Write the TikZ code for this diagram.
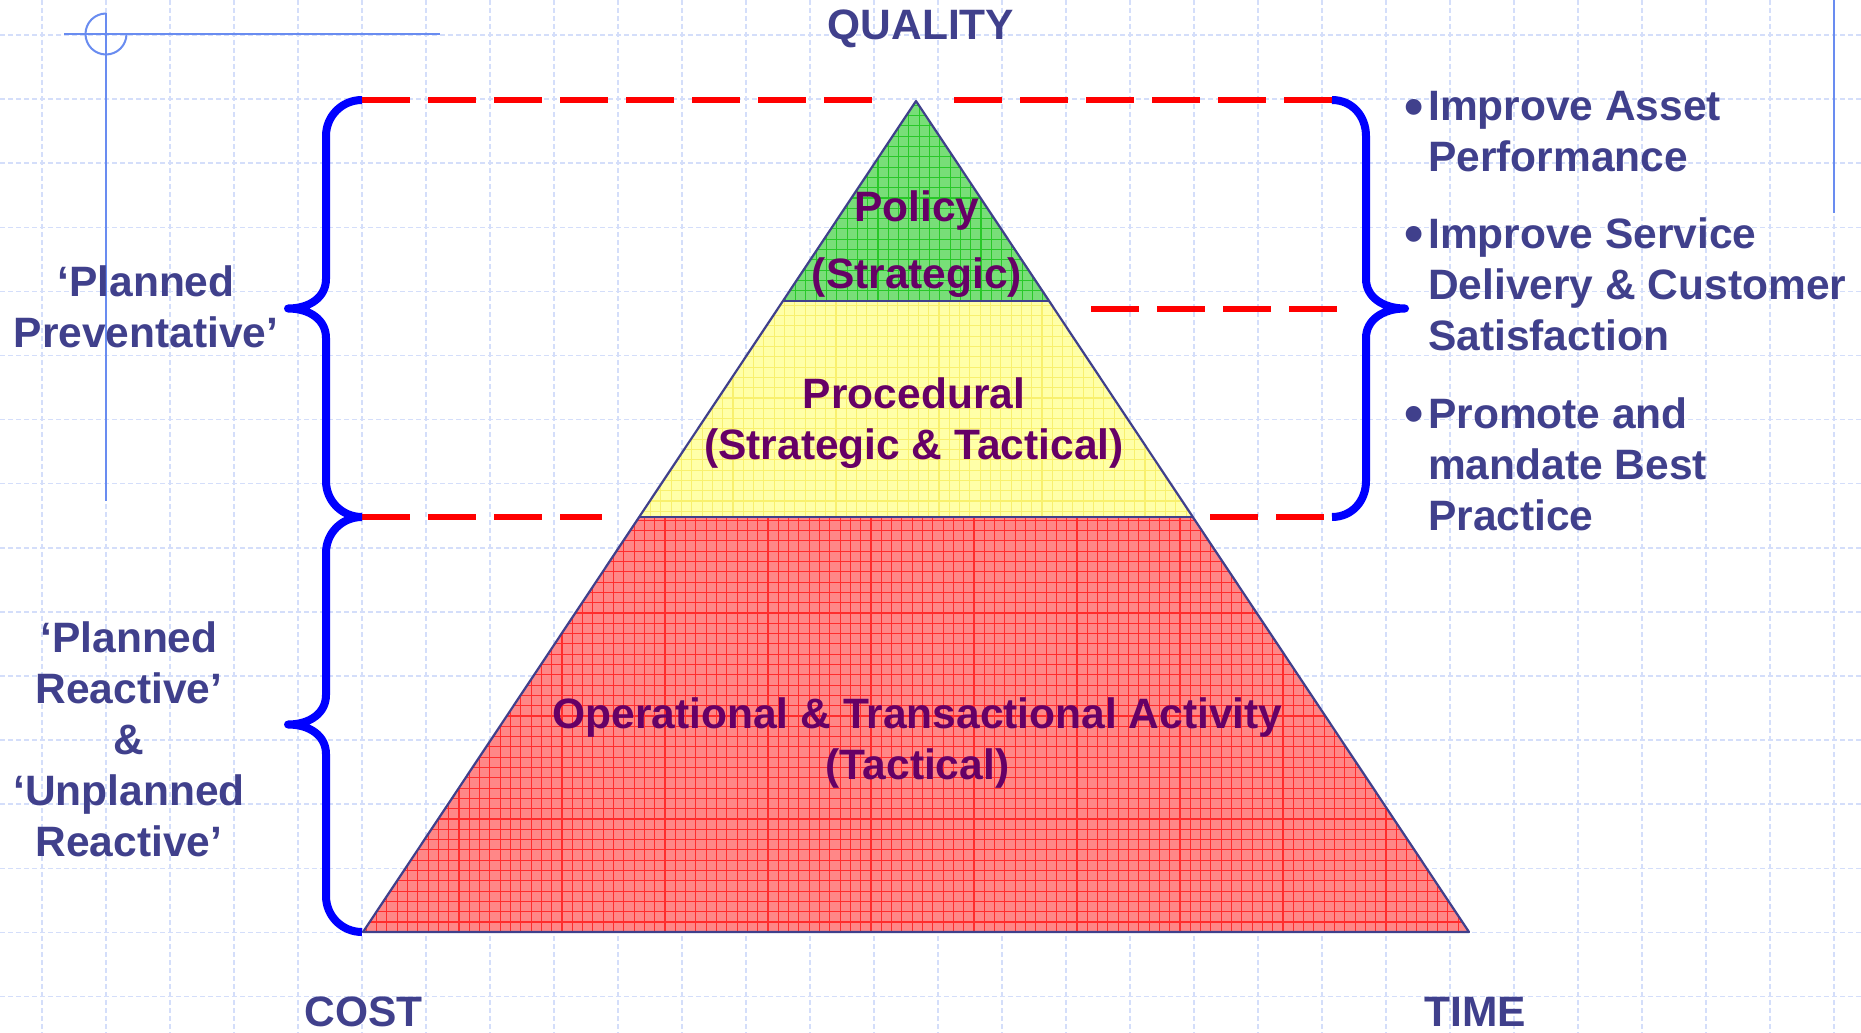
\documentclass[tikz,border=0pt]{standalone}
\usepackage{fontspec}
\setmainfont{Liberation Sans}
\definecolor{txtblue}{RGB}{64,64,140}
\definecolor{pur}{RGB}{102,0,102}
\definecolor{gridc}{RGB}{212,222,250}
\definecolor{deco}{RGB}{105,140,240}
\definecolor{gfill}{RGB}{120,222,120}
\definecolor{gline}{RGB}{40,200,40}
\definecolor{yfill}{RGB}{255,255,168}
\definecolor{yline}{RGB}{248,240,110}
\definecolor{rfill}{RGB}{255,135,135}
\definecolor{rline}{RGB}{255,45,45}
\definecolor{outl}{RGB}{64,64,140}
\begin{document}
\begin{tikzpicture}[x=1pt,y=-1pt,
  gridline/.style={draw=gridc, line width=1.5pt, dash pattern=on 5pt off 3pt},
  decoline/.style={draw=deco, line width=2pt},
  bracestyle/.style={draw=blue, line width=8pt, line join=round},
  reddash/.style={draw=red, line width=6pt, dash pattern=on 48pt off 18pt},
  pyr/.style={draw=outl, line width=2.2pt, line join=round},
  meshline/.style={line width=1.15pt},
  big/.style={font=\fontsize{42.5}{51}\selectfont\bfseries, inner sep=0pt},
  lbl/.style={big, text=txtblue},
  plbl/.style={big, text=pur},
  bulletmark/.style={font=\fontsize{55}{55}\selectfont\bfseries, text=txtblue, inner sep=0pt},
]
\useasboundingbox (0,0) rectangle (1861,1033);
\fill[white] (0,0) rectangle (1861,1033);
% background grid
\foreach \i in {0,...,28} \draw[gridline] ({42+64*\i},0) -- ({42+64*\i},1033);
\foreach \j in {0,...,15} \draw[gridline] (0,{35+64.1*\j}) -- (1861,{35+64.1*\j});
% decoration
\draw[decoline] (64,34) -- (440,34);
\draw[decoline] (106,13) -- (106,501);
\draw[decoline] (126.5,34) arc[start angle=0, end angle=270, radius=20.5];
\draw[decoline] (1834,0) -- (1834,213);
% pyramid coordinates
\coordinate (A) at (916,101);
\coordinate (GL) at (783,301);
\coordinate (GR) at (1049,301);
\coordinate (YL) at (639,517);
\coordinate (YR) at (1193,517);
\coordinate (BL) at (363,932);
\coordinate (BR) at (1469,932);
% green band
\begin{scope}
\clip (A) -- (GR) -- (GL) -- cycle;
\fill[gfill] (A) -- (GR) -- (GL) -- cycle;
\foreach \k in {0,...,28} \draw[meshline, gline] ({775+10.3*\k},95) -- ({775+10.3*\k},305);
\foreach \k in {0,...,20} \draw[meshline, gline] (775,{95+10.3*\k}) -- (1060,{95+10.3*\k});
\end{scope}
% yellow band
\begin{scope}
\clip (GL) -- (GR) -- (YR) -- (YL) -- cycle;
\fill[yfill] (GL) -- (GR) -- (YR) -- (YL) -- cycle;
\foreach \k in {0,...,56} \draw[meshline, yline] ({630+10.3*\k},295) -- ({630+10.3*\k},520);
\foreach \k in {0,...,22} \draw[meshline, yline] (630,{295+10.3*\k}) -- (1200,{295+10.3*\k});
\end{scope}
% red band
\begin{scope}
\clip (YL) -- (YR) -- (BR) -- (BL) -- cycle;
\fill[rfill] (YL) -- (YR) -- (BR) -- (BL) -- cycle;
\foreach \k in {0,...,108} \draw[meshline, rline] ({356+10.3*\k},510) -- ({356+10.3*\k},940);
\foreach \k in {0,...,42} \draw[meshline, rline] (356,{510+10.3*\k}) -- (1475,{510+10.3*\k});
\end{scope}
\draw[pyr] (A) -- (BR) -- (BL) -- cycle;
\draw[pyr] (GL) -- (GR);
\draw[pyr] (YL) -- (YR);
% brace coordinates
\coordinate (L1t) at (362,100);
\coordinate (L1m) at (288,308.5);
\coordinate (L1b) at (362,517);
\coordinate (L2m) at (288,724.5);
\coordinate (L2b) at (362,932);
\coordinate (R1t) at (1332,100);
\coordinate (R1m) at (1405,308.5);
\coordinate (R1b) at (1332,517);
% red dashed guide lines
\draw[reddash] (L1t) -- (872,100);
\draw[reddash] (954,100) -- (R1t);
\draw[reddash] (1091,308.5) -- (1337,308.5);
\draw[reddash] (L1b) -- (602,517);
\draw[reddash] (1210,517) -- (1324,517);
% braces
\draw[bracestyle] (L1t) .. controls (342,100) and (326,116) .. (326,136) -- (326,279)
  .. controls (326,297) and (310,308.5) .. (L1m)
  .. controls (310,308.5) and (326,320) .. (326,338) -- (326,481)
  .. controls (326,501) and (342,517) .. (L1b);
\draw[bracestyle] (L1b) .. controls (342,517) and (326,533) .. (326,553) -- (326,695)
  .. controls (326,713) and (310,724.5) .. (L2m)
  .. controls (310,724.5) and (326,736) .. (326,754) -- (326,896)
  .. controls (326,916) and (342,932) .. (L2b);
\draw[bracestyle] (R1t) .. controls (1352,100) and (1366,116) .. (1366,136) -- (1366,279)
  .. controls (1366,297) and (1383,308.5) .. (R1m)
  .. controls (1383,308.5) and (1366,320) .. (1366,338) -- (1366,481)
  .. controls (1366,501) and (1352,517) .. (R1b);
% axis labels
\node[lbl, anchor=base] (quality) at (921,40) {QUALITY};
\node[lbl, anchor=base] (cost) at (363.5,1026) {COST};
\node[lbl, anchor=base] (time) at (1475,1026) {TIME};
% left labels
\node[lbl, anchor=base] (prev) at (146,296) {\begin{tabular}[t]{@{}c@{}}‘Planned\\Preventative’\end{tabular}};
\node[lbl, anchor=base] (react) at (129,652) {\begin{tabular}[t]{@{}c@{}}‘Planned\\Reactive’\\\&\\‘Unplanned\\Reactive’\end{tabular}};
% pyramid labels
\node[plbl, anchor=base] (policy) at (917,221) {\begin{tabular}[t]{@{}c@{}}Policy\\[16pt](Strategic)\end{tabular}};
\node[plbl, anchor=base] (proc) at (914,408) {\begin{tabular}[t]{@{}c@{}}Procedural\\(Strategic \& Tactical)\end{tabular}};
\node[plbl, anchor=base] (oper) at (917.5,728) {\begin{tabular}[t]{@{}c@{}}Operational \& Transactional Activity\\(Tactical)\end{tabular}};
% bullet list
\node[bulletmark, anchor=base] (d1) at (1414,125) {•};
\node[bulletmark, anchor=base] (d2) at (1414,252) {•};
\node[bulletmark, anchor=base] (d3) at (1414,432) {•};
\node[lbl, anchor=base west] (b1) at (1428,121) {\begin{tabular}[t]{@{}l@{}}Improve Asset\\Performance\end{tabular}};
\node[lbl, anchor=base west] (b2) at (1428,248) {\begin{tabular}[t]{@{}l@{}}Improve Service\\Delivery \& Customer\\Satisfaction\end{tabular}};
\node[lbl, anchor=base west] (b3) at (1428,428) {\begin{tabular}[t]{@{}l@{}}Promote and\\mandate Best\\Practice\end{tabular}};
\end{tikzpicture}
\end{document}
